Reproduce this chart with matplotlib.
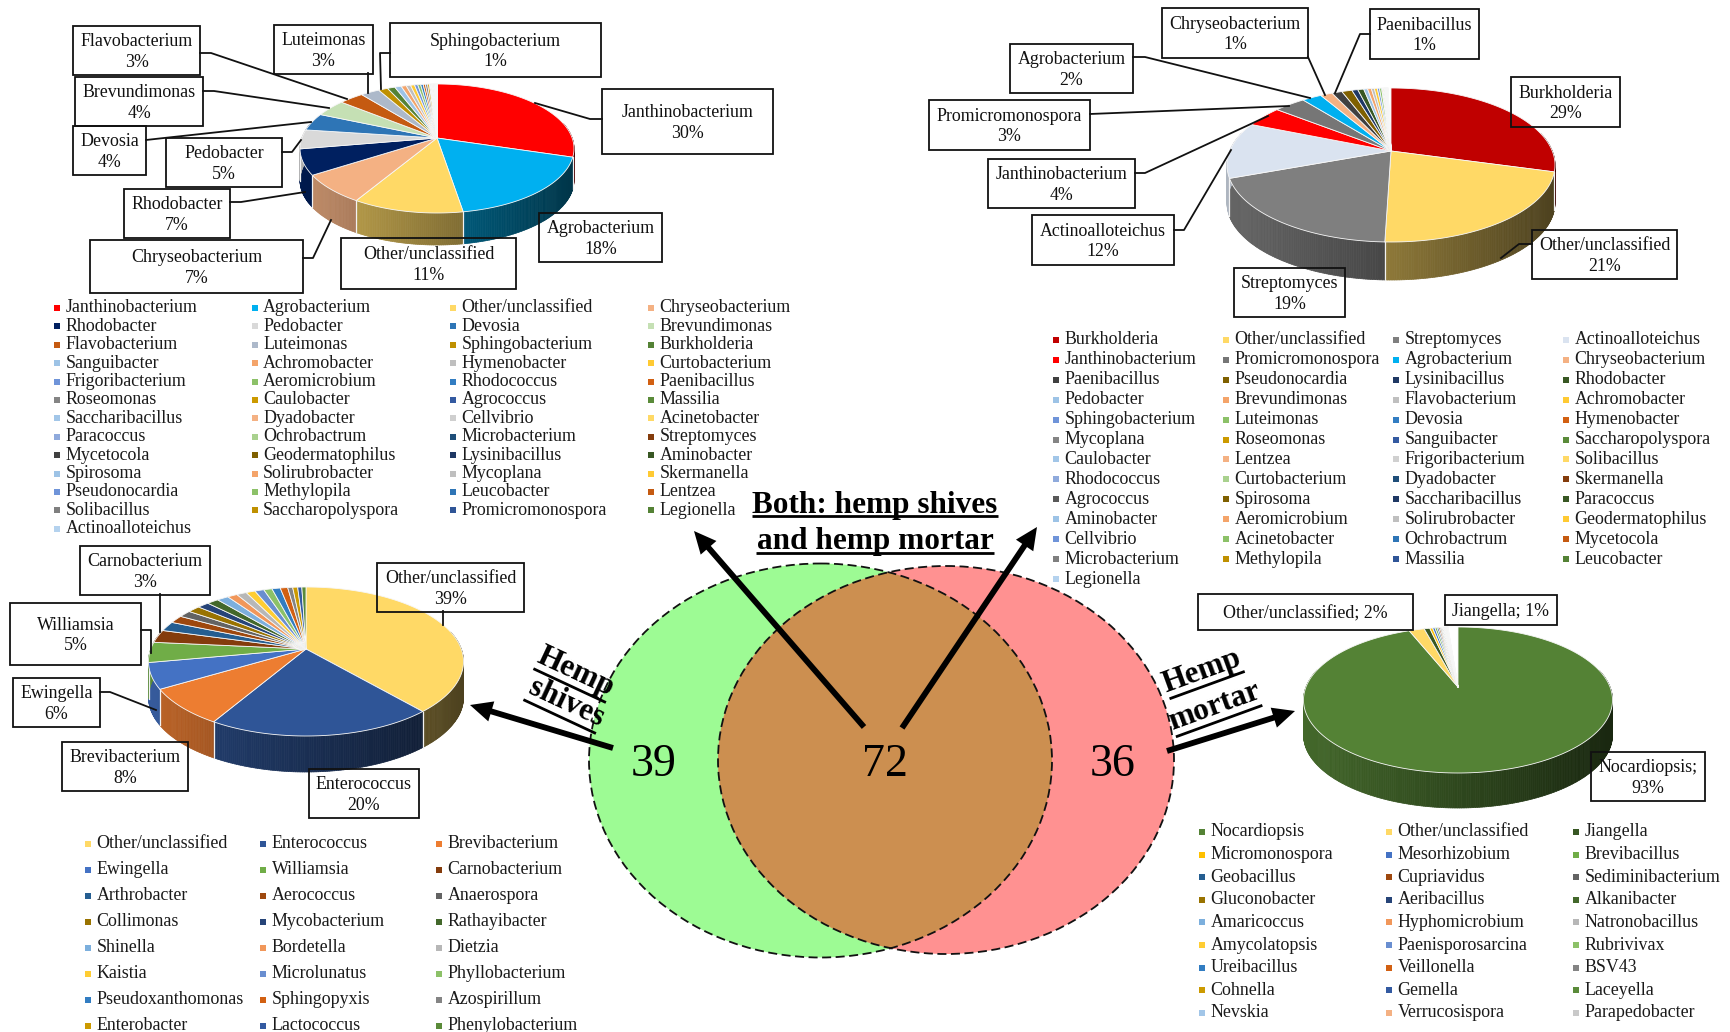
import numpy as np
import matplotlib
matplotlib.use("Agg")
import matplotlib.pyplot as plt
from matplotlib.collections import PolyCollection
from matplotlib.colors import to_rgb
from matplotlib.patches import Ellipse, Polygon, Rectangle

plt.rcParams["font.family"] = ["Liberation Serif", "DejaVu Serif"]

# top left pie, hemp shives + mortar
both1_names = [
    "Janthinobacterium", "Agrobacterium", "Other/unclassified", "Chryseobacterium",
    "Rhodobacter", "Pedobacter", "Devosia", "Brevundimonas",
    "Flavobacterium", "Luteimonas", "Sphingobacterium", "Burkholderia",
    "Sanguibacter", "Achromobacter", "Hymenobacter", "Curtobacterium",
    "Frigoribacterium", "Aeromicrobium", "Rhodococcus", "Paenibacillus",
    "Roseomonas", "Caulobacter", "Agrococcus", "Massilia",
    "Saccharibacillus", "Dyadobacter", "Cellvibrio", "Acinetobacter",
    "Paracoccus", "Ochrobactrum", "Microbacterium", "Streptomyces",
    "Mycetocola", "Geodermatophilus", "Lysinibacillus", "Aminobacter",
    "Spirosoma", "Solirubrobacter", "Mycoplana", "Skermanella",
    "Pseudonocardia", "Methylopila", "Leucobacter", "Lentzea",
    "Solibacillus", "Saccharopolyspora", "Promicromonospora", "Legionella",
    "Actinoalloteichus",
]
both1_values = [
    29.7, 17.7, 11.2, 7.3, 6.4, 4.8, 4.4, 4.3, 3.4, 2.6, 1.3, 1.05,
    0.9, 0.7, 0.6, 0.55, 0.45, 0.4, 0.35, 0.3, 0.3, 0.25, 0.1, 0.09,
    0.08, 0.07, 0.06, 0.06, 0.05, 0.05, 0.05, 0.04, 0.04, 0.04, 0.03, 0.03,
    0.03, 0.03, 0.03, 0.02, 0.02, 0.02, 0.02, 0.02, 0.02, 0.02, 0.01, 0.01,
    0.01,
]
both1_colors = [
    "#FF0000", "#00B0F0", "#FFD966", "#F4B183", "#002060", "#D9D9D9", "#2E75B6", "#C5E0B4",
    "#C55A11", "#ADB9CA", "#BF9000", "#548235", "#9DC3E6", "#F4A46A", "#BFBFBF", "#FFCA33",
    "#6F94D9", "#8CC168", "#327DC2", "#D26012", "#848484", "#CC9A00", "#335AA1", "#5A8B39",
    "#A2C6E8", "#F4B183", "#CFCFCF", "#FFD966", "#8FAADC", "#A9D18E", "#1F4E79", "#843C0C",
    "#404040", "#7F6000", "#1F3864", "#385723", "#9DC3E6", "#F4A46A", "#BFBFBF", "#FFCA33",
    "#6F94D9", "#8CC168", "#2E75B6", "#C55A11", "#7F7F7F", "#BF9000", "#2F5597", "#548235",
    "#B4D2EE",
]

# top right pie
both2_names = [
    "Burkholderia", "Other/unclassified", "Streptomyces", "Actinoalloteichus",
    "Janthinobacterium", "Promicromonospora", "Agrobacterium", "Chryseobacterium",
    "Paenibacillus", "Pseudonocardia", "Lysinibacillus", "Rhodobacter",
    "Pedobacter", "Brevundimonas", "Flavobacterium", "Achromobacter",
    "Sphingobacterium", "Luteimonas", "Devosia", "Hymenobacter",
    "Mycoplana", "Roseomonas", "Sanguibacter", "Saccharopolyspora",
    "Caulobacter", "Lentzea", "Frigoribacterium", "Solibacillus",
    "Rhodococcus", "Curtobacterium", "Dyadobacter", "Skermanella",
    "Agrococcus", "Spirosoma", "Saccharibacillus", "Paracoccus",
    "Aminobacter", "Aeromicrobium", "Solirubrobacter", "Geodermatophilus",
    "Cellvibrio", "Acinetobacter", "Ochrobactrum", "Mycetocola",
    "Microbacterium", "Methylopila", "Massilia", "Leucobacter",
    "Legionella",
]
both2_values = [
    29.3, 21.2, 18.9, 11.8, 4.4, 3.7, 2.3, 1.4, 1.2, 1.2, 0.7, 0.7,
    0.45, 0.45, 0.35, 0.35, 0.25, 0.25, 0.09, 0.08, 0.07, 0.06, 0.05, 0.04,
    0.03, 0.03, 0.02, 0.02, 0.02, 0.02, 0.02, 0.02, 0.01, 0.01, 0.01, 0.01,
    0.01, 0.01, 0.01, 0.01, 0.01, 0.01, 0.01, 0.01, 0.01, 0.01, 0.01, 0.01,
    0.01,
]
both2_colors = [
    "#C00000", "#FFD966", "#7F7F7F", "#DAE3F0", "#FF0000", "#767676", "#00B0F0", "#F4B183",
    "#404040", "#7F6000", "#1F3864", "#385723", "#9DC3E6", "#F4A46A", "#BFBFBF", "#FFCA33",
    "#6F94D9", "#8CC168", "#327DC2", "#D26012", "#848484", "#CC9A00", "#335AA1", "#5A8B39",
    "#A2C6E8", "#F4B183", "#D0D0D0", "#FFD966", "#8FAADC", "#A9D18E", "#1F4E79", "#843C0C",
    "#595959", "#7F6000", "#1F3864", "#385723", "#9DC3E6", "#F4A46A", "#BFBFBF", "#FFCA33",
    "#6F94D9", "#8CC168", "#2E75B6", "#C55A11", "#7F7F7F", "#BF9000", "#2F5597", "#548235",
    "#B4D2EE",
]

# hemp shives only
shives_names = [
    "Other/unclassified", "Enterococcus", "Brevibacterium",
    "Ewingella", "Williamsia", "Carnobacterium",
    "Arthrobacter", "Aerococcus", "Anaerospora",
    "Collimonas", "Mycobacterium", "Rathayibacter",
    "Shinella", "Bordetella", "Dietzia",
    "Kaistia", "Microlunatus", "Phyllobacterium",
    "Pseudoxanthomonas", "Sphingopyxis", "Azospirillum",
    "Enterobacter", "Lactococcus", "Phenylobacterium",
]
shives_values = [
    38.6, 19.9, 8.0, 5.6, 4.4, 2.8, 2.1, 1.7, 1.5, 1.5, 1.4, 1.4,
    1.4, 1.2, 1.2, 1.1, 1.1, 1.0, 1.0, 0.9, 0.6, 0.6, 0.5, 0.5,
]
shives_colors = [
    "#FFD966", "#2F5597", "#ED7D31", "#4472C4", "#70AD47", "#843C0C",
    "#255E91", "#9E480E", "#636363", "#997300", "#264478", "#43682B",
    "#7CAFDD", "#F1975A", "#B7B7B7", "#FFCD33", "#698ED0", "#8CC168",
    "#327DC2", "#D26012", "#848484", "#CC9A00", "#335AA1", "#5A8B39",
]

# hemp mortar only
mortar_names = [
    "Nocardiopsis", "Other/unclassified", "Jiangella",
    "Micromonospora", "Mesorhizobium", "Brevibacillus",
    "Geobacillus", "Cupriavidus", "Sediminibacterium",
    "Gluconobacter", "Aeribacillus", "Alkanibacter",
    "Amaricoccus", "Hyphomicrobium", "Natronobacillus",
    "Amycolatopsis", "Paenisporosarcina", "Rubrivivax",
    "Ureibacillus", "Veillonella", "BSV43",
    "Cohnella", "Gemella", "Laceyella",
    "Nevskia", "Verrucosispora", "Parapedobacter",
]
mortar_values = [
    93.9, 1.9, 0.7, 0.35, 0.3, 0.25, 0.2, 0.18, 0.15,
    0.12, 0.1, 0.09, 0.07, 0.06, 0.05, 0.05, 0.04, 0.04,
    0.03, 0.03, 0.03, 0.02, 0.02, 0.02, 0.02, 0.02, 0.02,
]
mortar_colors = [
    "#548235", "#FFD966", "#385723", "#FFC000", "#4472C4", "#70AD47", "#255E91", "#9E480E", "#636363",
    "#997300", "#264478", "#43682B", "#7CAFDD", "#F1975A", "#B7B7B7", "#FFCD33", "#698ED0", "#8CC168",
    "#327DC2", "#D26012", "#848484", "#CC9A00", "#335AA1", "#5A8B39", "#A2C6E8", "#F4B183", "#C9C9C9",
]

venn_counts = ["39", "72", "36"]

fig = plt.figure(figsize=(17.3, 10.32), dpi=100)
ax = fig.add_axes([0, 0, 1, 1])
ax.set_xlim(0, 1730)
ax.set_ylim(1032, 0)
ax.axis("off")


def draw_pie(values, colors, cx, cy, half_w, top_y, front_y, depth):
    # excel style 3d pie: circle seen in perspective, so the hub is above the ellipse centre
    up = cy - top_y
    down = front_y - cy
    r = down / up
    k = (1 - r) / (1 + r)
    b = up * (1 - k)
    a = half_w * np.sqrt(1 - k ** 2)

    def project(t):
        v = -np.cos(t)
        d = 1 + k * v
        return cx + a * np.sin(t) / d, cy + b * v / d

    start = 0.0
    wedges = []
    for val, col in zip(values, colors):
        end = start + val / 100 * 2 * np.pi
        wedges.append((start, end, col))
        start = end

    # side wall, split in strips to get the light to dark shading
    strips = []
    shades = []
    for t0, t1, col in wedges:
        n = max(2, int((t1 - t0) / np.radians(0.7)))
        ts = np.linspace(t0, t1, n + 1)
        xs, ys = project(ts)
        for i in range(n):
            if -np.cos(ts[i]) < -0.25:
                continue
            strips.append([(xs[i], ys[i]), (xs[i + 1], ys[i + 1]),
                           (xs[i + 1], ys[i + 1] + depth), (xs[i], ys[i] + depth)])
            f = 0.55 - 0.25 * (xs[i] - cx) / half_w
            shades.append(tuple(c * f for c in to_rgb(col)))
    ax.add_collection(PolyCollection(strips, facecolors=shades, edgecolors=shades, linewidths=0.5, zorder=2))

    for t0, t1, col in wedges:
        x, y = project(t0)
        if t1 - t0 > np.radians(5) and -np.cos(t0) > 0:
            ax.plot([x, x], [y, y + depth], color="#f2f2f2", lw=0.9, zorder=2.5)

    # top face
    for t0, t1, col in wedges:
        ts = np.linspace(t0, t1, max(2, int((t1 - t0) / np.radians(1)) + 1))
        xs, ys = project(ts)
        pts = [(cx, cy)] + list(zip(xs, ys))
        ax.add_patch(Polygon(pts, closed=True, facecolor=col, edgecolor="#f7f7f7", lw=0.6,
                             joinstyle="round", zorder=3))


def callout(box, lines, leader=None):
    x0, y0, x1, y1 = box
    ax.add_patch(Rectangle((x0, y0), x1 - x0, y1 - y0 + 1, facecolor="none", edgecolor="#111111", lw=1.3, zorder=5))
    xc = (x0 + x1) / 2
    yc = (y0 + y1) / 2 + 2
    for i, line in enumerate(lines):
        y = yc + (i - (len(lines) - 1) / 2) * 20.5
        ax.text(xc, y, line, ha="center", va="center", fontsize=12.9, color="#111111", zorder=6)
    if leader:
        ax.plot([p[0] for p in leader], [p[1] for p in leader], color="#111111", lw=1.3, zorder=4)


def legend(names, colors, columns, y0, dy):
    n = len(columns)
    for i, name in enumerate(names):
        row, col = divmod(i, n)
        y = y0 + row * dy
        ax.scatter(columns[col], y, marker="s", s=13, color=colors[i], linewidths=0, zorder=3)
        ax.text(columns[col] + 8.5, y, name, ha="left", va="center", fontsize=12.9, color="#1a1a1a", zorder=3)


def arrow(tail, tip):
    ax.annotate("", xy=tip, xytext=tail, zorder=7,
                arrowprops=dict(arrowstyle="simple,tail_width=0.42,head_width=1.5,head_length=1.6",
                                mutation_scale=10, color="black", lw=0, shrinkA=0, shrinkB=0))


def heading(x, y, s, rot, half_len, off):
    ax.text(x, y, s, ha="center", va="center", rotation=rot, rotation_mode="anchor",
            fontsize=22.5, fontweight="bold", color="black", zorder=8)
    ang = np.radians(rot)
    ux, uy = np.cos(ang), -np.sin(ang)
    nx, ny = -uy, ux
    ax.plot([x - half_len * ux + off * nx, x + half_len * ux + off * nx],
            [y - half_len * uy + off * ny, y + half_len * uy + off * ny],
            color="black", lw=2.0, solid_capstyle="butt", zorder=8)


# venn
green = Ellipse((820.5, 760.5), 463, 394, facecolor="#9DFB94", edgecolor="none", zorder=1)
red = Ellipse((946, 760), 456, 388, facecolor="#FF9191", edgecolor="none", zorder=1)
ax.add_patch(green)
ax.add_patch(red)
overlap = Ellipse((820.5, 760.5), 463, 394, facecolor="#CC8F50", edgecolor="none", zorder=1.1)
ax.add_patch(overlap)
overlap.set_clip_path(red)
for patch_xy, w, h in [((820.5, 760.5), 463, 394), ((946, 760), 456, 388)]:
    ax.add_patch(Ellipse(patch_xy, w, h, facecolor="none", edgecolor="#111111", lw=1.3,
                         linestyle=(0, (5, 2.5)), zorder=1.2))
for x, s in zip([654, 884.5, 1113], venn_counts):
    ax.text(x, 765, s, ha="center", va="center", fontsize=33, color="black", zorder=8)

arrow((864, 727), (694, 531))
arrow((902, 728), (1037, 527))
arrow((613, 748), (470, 705))
arrow((1167, 751), (1295, 711))

heading(875, 505, "Both: hemp shives", 0, 123, 11)
heading(875, 542, "and hemp mortar", 0, 119, 11)
heading(576, 672, "Hemp", -25, 40, 15)
heading(566, 703, "shives", -25, 40, 15)
heading(1202, 671, "Hemp", 20, 40, 15)
heading(1214, 707, "mortar", 20, 46, 15)

# pies
draw_pie(both1_values, both1_colors, 437, 138, 137, 84, 213, 32)
draw_pie(both2_values, both2_colors, 1391, 151, 164, 88, 242, 38)
draw_pie(shives_values, shives_colors, 306, 649, 157.5, 587, 736, 36)
draw_pie(mortar_values, mortar_colors, 1458, 687, 154.5, 627, 773, 35)

# callouts for the top left pie
callout((73, 26, 200, 74), ["Flavobacterium", "3%"], [(200, 53), (211, 53), (347, 99)])
callout((274, 25, 373, 73), ["Luteimonas", "3%"], [(368, 73), (368, 93)])
callout((390, 23, 601, 76), ["Sphingobacterium", "1%"], [(390, 53), (380, 53), (381, 89)])
callout((75, 77, 203, 125), ["Brevundimonas", "4%"], [(203, 91), (214, 91), (329, 108)])
callout((73, 126, 146, 174), ["Devosia", "4%"], [(146, 140), (164, 138), (311, 122)])
callout((166, 138, 282, 186), ["Pedobacter", "5%"], [(282, 152), (292, 152), (301, 140)])
callout((124, 189, 230, 237), ["Rhodobacter", "7%"], [(230, 202), (241, 202), (305, 192)])
callout((90, 240, 303, 292), ["Chryseobacterium", "7%"], [(303, 258), (313, 258), (331, 220)])
callout((341, 238, 516, 288), ["Other/unclassified", "11%"])
callout((539, 213, 662, 261), ["Agrobacterium", "18%"])
callout((602, 89, 773, 153), ["Janthinobacterium", "30%"], [(602, 119), (590, 119), (535, 103)])

# callouts for the top right pie
callout((1162, 8, 1308, 57), ["Chryseobacterium", "1%"], [(1308, 57), (1325, 95)])
callout((1370, 9, 1479, 58), ["Paenibacillus", "1%"], [(1370, 34), (1360, 34), (1335, 93)])
callout((1010, 44, 1133, 92), ["Agrobacterium", "2%"], [(1133, 57), (1145, 57), (1310, 98)])
callout((929, 100, 1090, 149), ["Promicromonospora", "3%"], [(1090, 114), (1289, 106)])
callout((988, 159, 1135, 207), ["Janthinobacterium", "4%"], [(1135, 173), (1145, 173), (1268, 116)])
callout((1032, 215, 1174, 264), ["Actinoalloteichus", "12%"], [(1174, 230), (1184, 230), (1231, 150)])
callout((1234, 268, 1345, 316), ["Streptomyces", "19%"])
callout((1532, 230, 1677, 278), ["Other/unclassified", "21%"], [(1532, 244), (1519, 244), (1501, 258)])
callout((1511, 77, 1620, 126), ["Burkholderia", "29%"])

# callouts for the shives pie
callout((80, 546, 210, 594), ["Carnobacterium", "3%"], [(160, 594), (160, 632)])
callout((10, 603, 141, 664), ["Williamsia", "5%"], [(141, 630), (151, 630), (151, 653)])
callout((13, 678, 100, 726), ["Ewingella", "6%"], [(100, 692), (110, 692), (156, 710)])
callout((62, 742, 188, 790), ["Brevibacterium", "8%"])
callout((309, 769, 419, 817), ["Enterococcus", "20%"])
callout((377, 563, 524, 611), ["Other/unclassified", "39%"], [(443, 611), (443, 625)])

# callouts for the mortar pie
callout((1198, 594, 1413, 629), ["Other/unclassified; 2%"])
callout((1445, 595, 1557, 624), ["Jiangella; 1%"])
callout((1591, 752, 1705, 800), ["Nocardiopsis;", "93%"])

legend(both1_names, both1_colors, [57, 254.6, 453, 651], 308, 18.39)
legend(both2_names, both2_colors, [1056, 1226, 1396, 1566], 339.7, 19.96)
legend(shives_names, shives_colors, [88, 263, 439], 844, 26)
legend(mortar_names, mortar_colors, [1202, 1389, 1576], 832, 22.6)

fig.savefig("out.png", dpi=100)
plt.close(fig)
